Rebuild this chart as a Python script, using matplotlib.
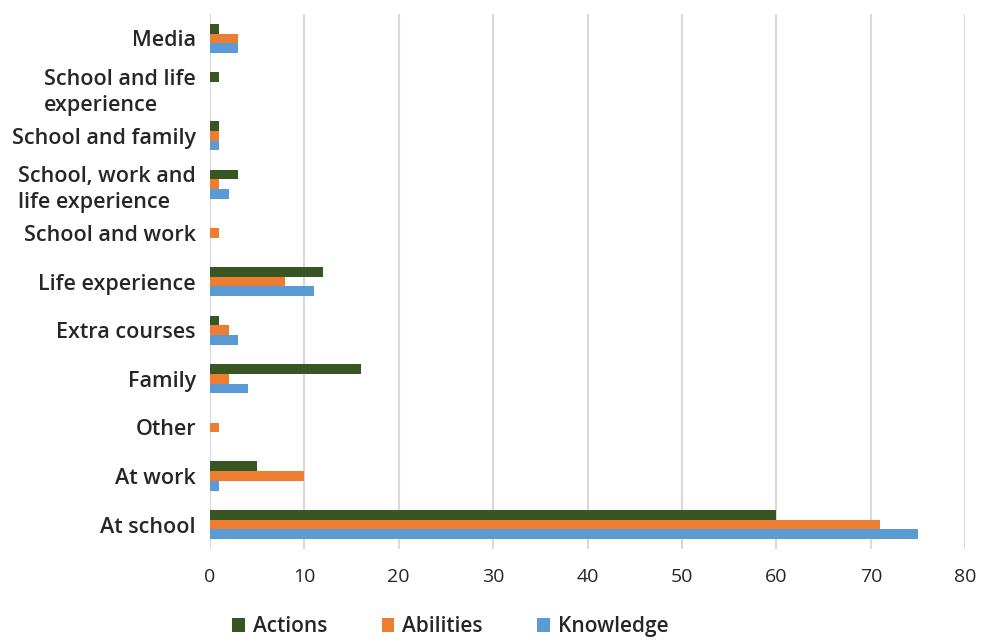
import numpy as np
import matplotlib.pyplot as plt

plt.rcParams['font.family'] = ['Open Sans', 'DejaVu Sans']

categories = ['At school', 'At work', 'Other', 'Family', 'Extra courses',
              'Life experience', 'School and work',
              'School, work and\nlife experience', 'School and family',
              'School and life\nexperience', 'Media']
actions = [60, 5, 0, 16, 1, 12, 0, 3, 1, 1, 1]
abilities = [71, 10, 1, 2, 2, 8, 1, 1, 1, 0, 3]
knowledge = [75, 1, 0, 4, 3, 11, 0, 2, 1, 0, 3]

y = np.arange(len(categories))
h = 0.2

fig = plt.figure(figsize=(9.9, 6.42), dpi=100)
ax = fig.add_axes([0.212, 0.145, 0.763, 0.833])

ax.barh(y + h, actions, h, color='#375623', label='Actions')
ax.barh(y, abilities, h, color='#ED7D31', label='Abilities')
ax.barh(y - h, knowledge, h, color='#5B9BD5', label='Knowledge')

ax.set_xlim(0, 80)
ax.set_ylim(-0.5, len(categories) - 0.5)
ax.set_xticks(range(0, 81, 10))
ax.set_yticks(y)
ax.set_yticklabels(categories, fontsize=15.5, fontweight='semibold')
for lab in ax.get_yticklabels():
    lab.set_multialignment('left')
    lab.set_linespacing(1.35)
ax.tick_params(axis='both', length=0, labelcolor='#262626')
ax.tick_params(axis='x', pad=14, labelsize=14)
ax.tick_params(axis='y', pad=10)
ax.grid(axis='x', color='#d9d9d9', linewidth=1.5)
ax.set_axisbelow(True)
for s in ax.spines.values():
    s.set_visible(False)

leg = fig.legend(loc='lower center', bbox_to_anchor=(0.455, -0.022), ncol=3,
                 frameon=False, prop={'size': 15, 'weight': 'semibold'},
                 handlelength=0.6, handleheight=0.6, handletextpad=0.4,
                 columnspacing=2.6, labelcolor='#262626')

fig.savefig('out.png', dpi=100)
